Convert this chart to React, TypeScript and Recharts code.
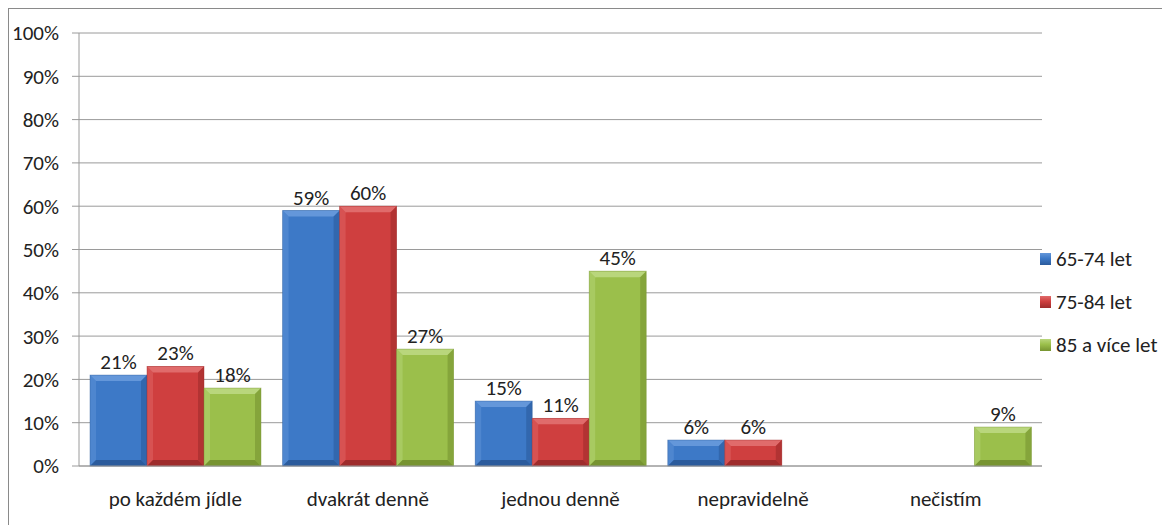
import React from "react";
import { BarChart, Bar, XAxis, YAxis, CartesianGrid, LabelList } from "recharts";

const categories = ["po každém jídle", "dvakrát denně", "jednou denně", "nepravidelně", "nečistím"];
const seriesNames = ["65-74 let", "75-84 let", "85 a více let"];
const young = [21, 59, 15, 6, null];
const middle = [23, 60, 11, 6, null];
const old = [18, 27, 45, null, 9];
const yTicks = [0, 10, 20, 30, 40, 50, 60, 70, 80, 90, 100];
const edgeTicks = [0, 1, 2, 3, 4, 5];

const palette = [
  { base: "#3d79c7", light: "#6497da", dark: "#2b5b9c", key: "young" },
  { base: "#cf3f3f", light: "#e06b6b", dark: "#9e2c2c", key: "middle" },
  { base: "#9bbf4b", light: "#b9d67c", dark: "#779431", key: "old" },
];

const data = categories.map((name, i) => ({
  name,
  young: young[i],
  middle: middle[i],
  old: old[i],
}));

const FONT = "Carlito, Lato, 'Liberation Sans', sans-serif";
const FS = 21;

const makeShape = (c: { base: string; light: string; dark: string }) => (props: any) => {
  const { x, y, width, height } = props;
  if (!height || height <= 0) return <g />;
  const b = Math.min(6, height / 2, width / 2);
  return (
    <g>
      <rect x={x} y={y} width={width} height={height} fill={c.base} />
      <polygon points={`${x},${y} ${x + width},${y} ${x + width - b},${y + b} ${x + b},${y + b}`} fill={c.light} />
      <polygon points={`${x},${y} ${x + b},${y + b} ${x + b},${y + height - b} ${x},${y + height}`} fill={c.light} opacity={0.45} />
      <polygon points={`${x + width},${y} ${x + width - b},${y + b} ${x + width - b},${y + height - b} ${x + width},${y + height}`} fill={c.dark} opacity={0.6} />
      <polygon points={`${x},${y + height} ${x + b},${y + height - b} ${x + width - b},${y + height - b} ${x + width},${y + height}`} fill={c.dark} />
      <rect x={x} y={y} width={width} height={height} fill="none" stroke={c.dark} strokeOpacity={0.5} strokeWidth={0.8} />
    </g>
  );
};

const App: React.FC = () => {
  return (
    <div
      style={{
        position: "relative",
        margin: "-1px 0 0 -1px",
        width: 1158,
        height: 520,
        border: "2px solid #8a8a8a",
        background: "#fff",
        fontFamily: FONT,
      }}
    >
      <BarChart
        width={1158}
        height={520}
        data={data}
        margin={{ top: 24, right: 125, bottom: 23, left: 0 }}
        barCategoryGap={11}
        barGap={0}
      >
        <CartesianGrid vertical={false} stroke="#9a9a9a" />
        <XAxis
          xAxisId="edges"
          type="number"
          domain={[0, 5]}
          ticks={edgeTicks}
          tick={false}
          tickSize={9}
          axisLine={false}
          stroke="#9a9a9a"
          height={0}
          allowDataOverflow
        />
        <XAxis
          dataKey="name"
          tickLine={false}
          tickSize={9}
          tickMargin={16}
          height={40}
          stroke="#9a9a9a"
          tick={{ fill: "#222", fontSize: FS, fontFamily: FONT }}
        />
        <YAxis
          domain={[0, 100]}
          ticks={yTicks}
          width={70}
          tickSize={7}
          tickMargin={13}
          stroke="#9a9a9a"
          tickFormatter={(v: number) => `${v}%`}
          tick={{ fill: "#222", fontSize: FS, fontFamily: FONT }}
        />
        {palette.map((c, i) => (
          <Bar
            key={c.key}
            dataKey={c.key}
            name={seriesNames[i]}
            fill={c.base}
            shape={makeShape(c)}
            isAnimationActive={false}
          >
            <LabelList
              dataKey={c.key}
              position="top"
              offset={6}
              formatter={(v: any) => (v == null ? "" : `${v}%`)}
              style={{ fill: "#222", fontSize: FS, fontFamily: FONT }}
            />
          </Bar>
        ))}
      </BarChart>
      {palette.map((c, i) => (
        <div
          key={c.key}
          style={{
            position: "absolute",
            left: 1031,
            top: 238 + i * 43,
            height: 24,
            display: "flex",
            alignItems: "center",
            fontSize: FS,
            color: "#222",
            whiteSpace: "nowrap",
          }}
        >
          <span
            style={{
              display: "inline-block",
              width: 11,
              height: 12,
              marginRight: 5,
              background: `linear-gradient(180deg, ${c.light}, ${c.base} 45%, ${c.dark})`,
            }}
          />
          {seriesNames[i]}
        </div>
      ))}
    </div>
  );
};

export default App;
